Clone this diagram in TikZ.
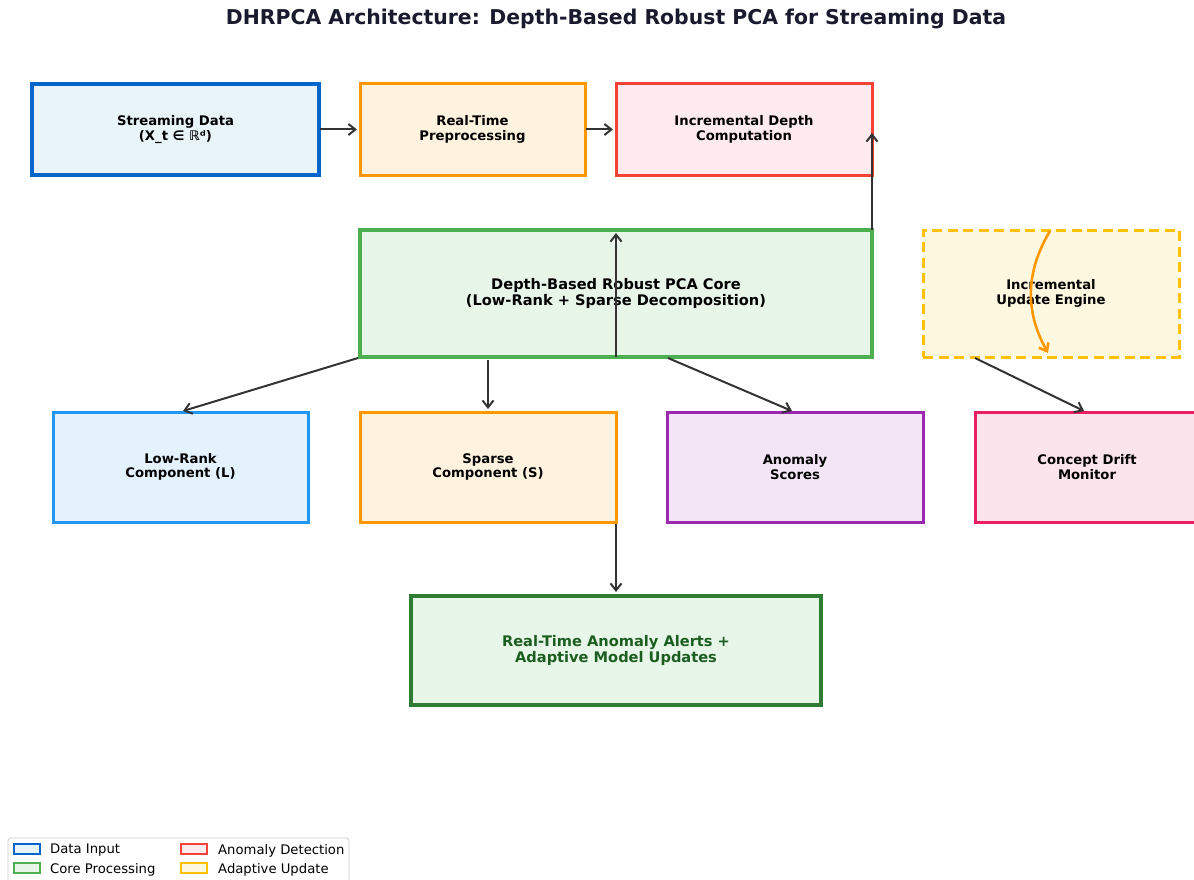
\documentclass[tikz,border=0pt]{standalone}
\usepackage{fontspec}
\setmainfont{DejaVu Sans}
\usetikzlibrary{arrows.meta,calc}

\definecolor{inkdark}{HTML}{1A1A2E}
\definecolor{arrowgray}{HTML}{333333}
\definecolor{streamblue}{HTML}{0066CC}
\definecolor{streamfill}{HTML}{E8F4F8}
\definecolor{lowblue}{HTML}{2196F3}
\definecolor{lowfill}{HTML}{E3F2FD}
\definecolor{orangeedge}{HTML}{FF9800}
\definecolor{orangefill}{HTML}{FFF3E0}
\definecolor{rededge}{HTML}{F44336}
\definecolor{redfill}{HTML}{FFEBEE}
\definecolor{greenedge}{HTML}{4CAF50}
\definecolor{greenfill}{HTML}{E8F5E9}
\definecolor{ambereedge}{HTML}{FFC107}
\definecolor{amberfill}{HTML}{FFF8E1}
\definecolor{purpleedge}{HTML}{9C27B0}
\definecolor{purplefill}{HTML}{F3E5F5}
\definecolor{pinkedge}{HTML}{E91E63}
\definecolor{pinkfill}{HTML}{FCE4EC}
\definecolor{darkgreen}{HTML}{2E7D32}
\definecolor{darkgreentext}{HTML}{1B5E20}
\definecolor{legendedge}{HTML}{CCCCCC}

\tikzset{
  block/.style={draw, line width=3pt, align=center, inner sep=0pt, outer sep=0pt,
    font=\fontsize{13.2}{14.5}\selectfont\bfseries},
  bigtext/.style={font=\fontsize{14.6}{16.5}\selectfont\bfseries},
  flow/.style={draw=arrowgray, line width=2pt,
    -{Straight Barb[length=7pt,width=11pt,line width=2pt]}},
  legpatch/.style={draw, line width=1.5pt, minimum width=26pt, minimum height=10pt, inner sep=0pt},
  legtext/.style={anchor=west, inner sep=0pt, font=\fontsize{13.2}{15}\selectfont},
}

\begin{document}
\begin{tikzpicture}[x=1pt,y=-1pt]
\useasboundingbox (0,0) rectangle (1194,880);

% title
\node[font=\fontsize{20.4}{23}\selectfont\bfseries, text=inkdark] (title) at (616,19)
  {DHRPCA Architecture: Depth-Based Robust PCA for Streaming Data};

% input row
\node[block, draw=streamblue, fill=streamfill, line width=3.6pt,
  minimum width=287pt, minimum height=91pt] (stream) at (175.5,129.5)
  {Streaming Data\\(X\_t ∈ ℝᵈ)};
\node[block, draw=orangeedge, fill=orangefill,
  minimum width=225pt, minimum height=91pt] (prep) at (472.5,129.5)
  {Real-Time\\Preprocessing};
\node[block, draw=rededge, fill=redfill,
  minimum width=256pt, minimum height=91pt] (depth) at (744,129.5)
  {Incremental Depth\\Computation};

% core and update engine
\node[block, bigtext, draw=greenedge, fill=greenfill, line width=3.5pt,
  minimum width=512pt, minimum height=127pt] (core) at (616,293.5)
  {Depth-Based Robust PCA Core\\(Low-Rank + Sparse Decomposition)};
\node[block, draw=ambereedge, fill=amberfill,
  dash pattern=on 10pt off 5.5pt,
  minimum width=256pt, minimum height=127pt] (engine) at (1051,293.5)
  {Incremental\\Update Engine};

% decomposition outputs
\node[block, draw=lowblue, fill=lowfill,
  minimum width=255pt, minimum height=110pt] (lowrank) at (180.5,467)
  {Low-Rank\\Component (L)};
\node[block, draw=orangeedge, fill=orangefill,
  minimum width=256pt, minimum height=110pt] (sparse) at (488,467)
  {Sparse\\Component (S)};
\node[block, draw=purpleedge, fill=purplefill,
  minimum width=256pt, minimum height=110pt] (scores) at (795,467)
  {Anomaly\\Scores};
\node[block, draw=pinkedge, fill=pinkfill,
  minimum width=256pt, minimum height=110pt] (drift) at (1103,467) {};
\node[font=\fontsize{13.2}{14.5}\selectfont\bfseries, align=center, inner sep=0pt]
  (driftlabel) at (1087,467) {Concept Drift\\Monitor};

% final output
\node[block, bigtext, draw=darkgreen, fill=greenfill, line width=4.6pt,
  minimum width=410pt, minimum height=109pt, text=darkgreentext] (alerts) at (616,650.5)
  {Real-Time Anomaly Alerts +\\Adaptive Model Updates};

% connectors
\draw[flow] ($(stream.east)+(1,0)$) -- ($(prep.west)+(-3,0)$);
\draw[flow] ($(prep.east)+(1,0)$) -- ($(depth.west)+(-3,0)$);
\draw[flow] (core.north east -| depth.east) -- ($(depth.east)+(0,3.5)$);
\draw[flow] (core.south) -- ($(core.north)+(0,3)$);
\draw[flow] ($(core.south west)+(-2,1)$) -- ($(lowrank.north)+(2.5,-1)$);
\draw[flow] ($(core.south)+(-128,3)$) -- ($(sparse.north)+(0,-3)$);
\draw[flow] ($(core.south)+(52,1)$) -- ($(scores.north)+(-3,-1)$);
\draw[flow] ($(engine.south west)+(52,1)$) -- ($(drift.north)+(-19,-1)$);
\draw[flow] ($(sparse.south east -| alerts.north)+(0,2)$) -- ($(alerts.north)+(0,-4)$);
\draw[draw=orangeedge, line width=2.6pt,
  -{Straight Barb[length=7pt,width=11pt,line width=2.6pt]}]
  ($(engine.north)+(-1,1)$) to[bend right=30] ($(engine.south)+(-3,-4)$);

% legend
\node[draw=legendedge, line width=0.8pt, rounded corners=3pt, fill=white,
  minimum width=341pt, minimum height=52pt, inner sep=0pt] (legend) at (178.5,864) {};
\node[legpatch, draw=streamblue, fill=streamfill] (legA) at (27,849) {};
\node[legtext] (legAt) at (50,850.5) {Data Input};
\node[legpatch, draw=greenedge, fill=greenfill] (legB) at (27,868) {};
\node[legtext] (legBt) at (50,869.5) {Core Processing};
\node[legpatch, draw=rededge, fill=redfill] (legC) at (194,849) {};
\node[legtext] (legCt) at (218,850.5) {Anomaly Detection};
\node[legpatch, draw=ambereedge, fill=amberfill] (legD) at (194,868) {};
\node[legtext] (legDt) at (218,869.5) {Adaptive Update};
\end{tikzpicture}
\end{document}
